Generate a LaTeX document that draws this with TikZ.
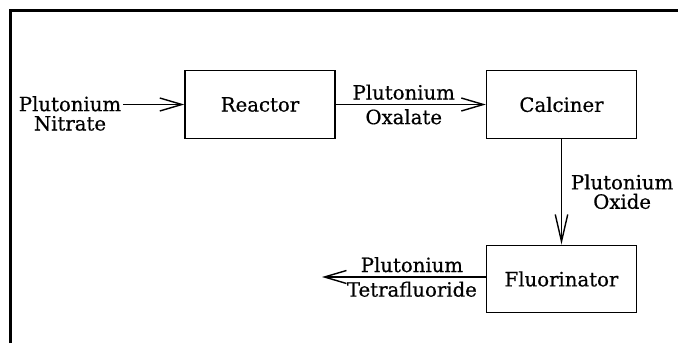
\documentclass[tikz,border=0pt]{standalone}
\usepackage{fontspec}
\setmainfont{DejaVu Serif}[FakeBold=0.6]
\usetikzlibrary{arrows.meta, positioning}

\begin{document}
\begin{tikzpicture}[
  unit/.style={draw, line width=0.8pt, minimum width=3cm, minimum height=1.35cm,
    font=\fontsize{11.2}{13}\selectfont},
  stream/.style={align=center, inner sep=1pt, font=\fontsize{11.2}{11}\selectfont},
  flow/.style={line width=0.8pt, -{Straight Barb[length=4.4mm, width=2.6mm]}}
]
% Page and frame (only top and left edges show)
\useasboundingbox (0,0) rectangle (13.56,6.86);
\draw[line width=1.3pt] (0.21,0) -- (0.21,6.65) -- (13.56,6.65);

% Process units
\node[unit] (reactor) at (5.20,4.77) {Reactor};
\node[unit] (calciner) at (11.23,4.77) {Calciner};
\node[unit] (fluorinator) at (11.23,1.28) {Fluorinator};

% Feed and product
\node[stream] (nitrate) at (1.40,4.59) {Plutonium\\Nitrate};
\coordinate (product) at (6.44,1.32);

% Streams between units
\draw[flow] (nitrate.east |- reactor.west) -- (reactor.west);
\draw[flow] (reactor) -- node[stream, xshift=-1.4mm] {Plutonium\\[3pt]Oxalate} (calciner);
\draw[flow, -{Straight Barb[length=5.4mm, width=2.5mm]}] (calciner) --
  node[stream, right=1.4mm] {Plutonium\\Oxide} (fluorinator);
\draw[flow] ([yshift=0.04cm]fluorinator.west) -- ([yshift=0.04cm]fluorinator.west -| product)
  node[stream, midway, xshift=1.6mm] {Plutonium\\[3pt]Tetrafluoride};
\end{tikzpicture}
\end{document}
